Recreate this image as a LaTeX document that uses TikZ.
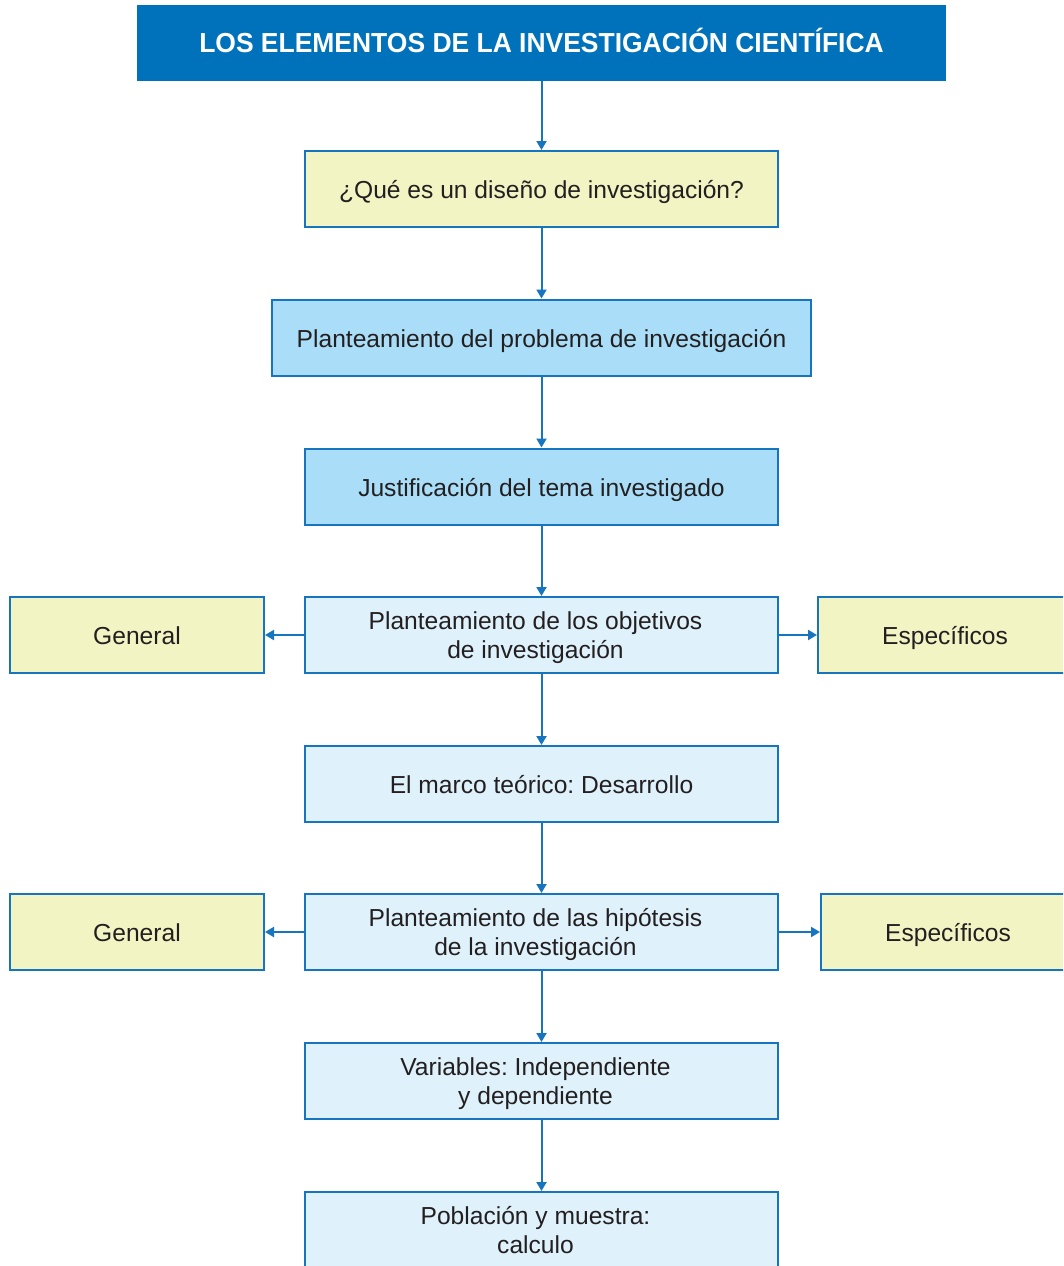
\documentclass[tikz,border=0pt]{standalone}
\usepackage{fontspec}
\setmainfont{Liberation Sans}
\usetikzlibrary{arrows.meta}
\definecolor{mainblue}{RGB}{0,114,188}
\definecolor{edgeblue}{RGB}{22,117,190}
\definecolor{paleyellow}{RGB}{242,244,196}
\definecolor{skyblue}{RGB}{170,222,248}
\definecolor{iceblue}{RGB}{223,241,250}
\definecolor{inkgray}{RGB}{35,31,32}
% two centred lines, baseline on the first one, set a little left of centre
\newcommand{\twoln}[2]{\kern-12pt\begin{tabular}[t]{@{}c@{}}#1\\#2\end{tabular}}
\tikzset{
  x=1pt, y=-1pt,
  box/.style={draw=edgeblue, line width=2pt, minimum height=76pt, inner sep=0pt,
    text=inkgray, font=\fontsize{24.6}{29.5}\selectfont,
    text height=23pt, text depth=4pt},
  pair/.style={text height=20pt, text depth=31.6pt},
  wide/.style={box, minimum width=473pt},
  side/.style={box, fill=paleyellow, minimum width=254pt},
  flow/.style={draw=edgeblue, line width=2pt, -{Triangle[width=10pt,length=9pt]}},
}
\begin{document}
\frenchspacing
\begin{tikzpicture}
\useasboundingbox (0,0) rectangle (1063,1266);
\clip (0,0) rectangle (1063,1266);

% title bar
\node[fill=mainblue, minimum width=809pt, minimum height=76pt, inner sep=0pt,
  text=white, font=\fontsize{27.5}{30}\bfseries\selectfont,
  text height=22pt, text depth=3.4pt] (title) at (541.5,43)
  {\scalebox{0.962}[1]{LOS ELEMENTOS DE LA INVESTIGACIÓN CIENTÍFICA}};

% central column
\node[wide, fill=paleyellow] (q) at (541.5,189) {¿Qué es un diseño de investigación?};
\node[box, fill=skyblue, minimum width=539pt] (prob) at (541.5,337.5) {Planteamiento del problema de investigación};
\node[wide, fill=skyblue] (just) at (541.5,486.5) {Justificación del tema investigado};
\node[wide, pair, fill=iceblue] (obj) at (541.5,635) {\twoln{Planteamiento de los objetivos}{de investigación}};
\node[wide, fill=iceblue] (marco) at (541.5,784) {El marco teórico: Desarrollo};
\node[wide, pair, fill=iceblue] (hip) at (541.5,932) {\twoln{Planteamiento de las hipótesis}{de la investigación}};
\node[wide, pair, fill=iceblue] (var) at (541.5,1081) {\twoln{Variables: Independiente}{y dependiente}};
\node[wide, pair, fill=iceblue] (pob) at (541.5,1230) {\twoln{Población y muestra:}{calculo}};

% side boxes
\node[side] (g1) at (137,635) {General};
\node[side] (e1) at (945,635) {Específicos};
\node[side] (g2) at (137,932) {General};
\node[side] (e2) at (948,932) {Específicos};

% connectors
\draw[flow] (title) -- (q);
\draw[flow] (q) -- (prob);
\draw[flow] (prob) -- (just);
\draw[flow] (just) -- (obj);
\draw[flow] (obj) -- (marco);
\draw[flow] (marco) -- (hip);
\draw[flow] (hip) -- (var);
\draw[flow] (var) -- (pob);
\draw[flow] (obj) -- (g1);
\draw[flow] (obj) -- (e1);
\draw[flow] (hip) -- (g2);
\draw[flow] (hip) -- (e2);
\end{tikzpicture}
\end{document}
